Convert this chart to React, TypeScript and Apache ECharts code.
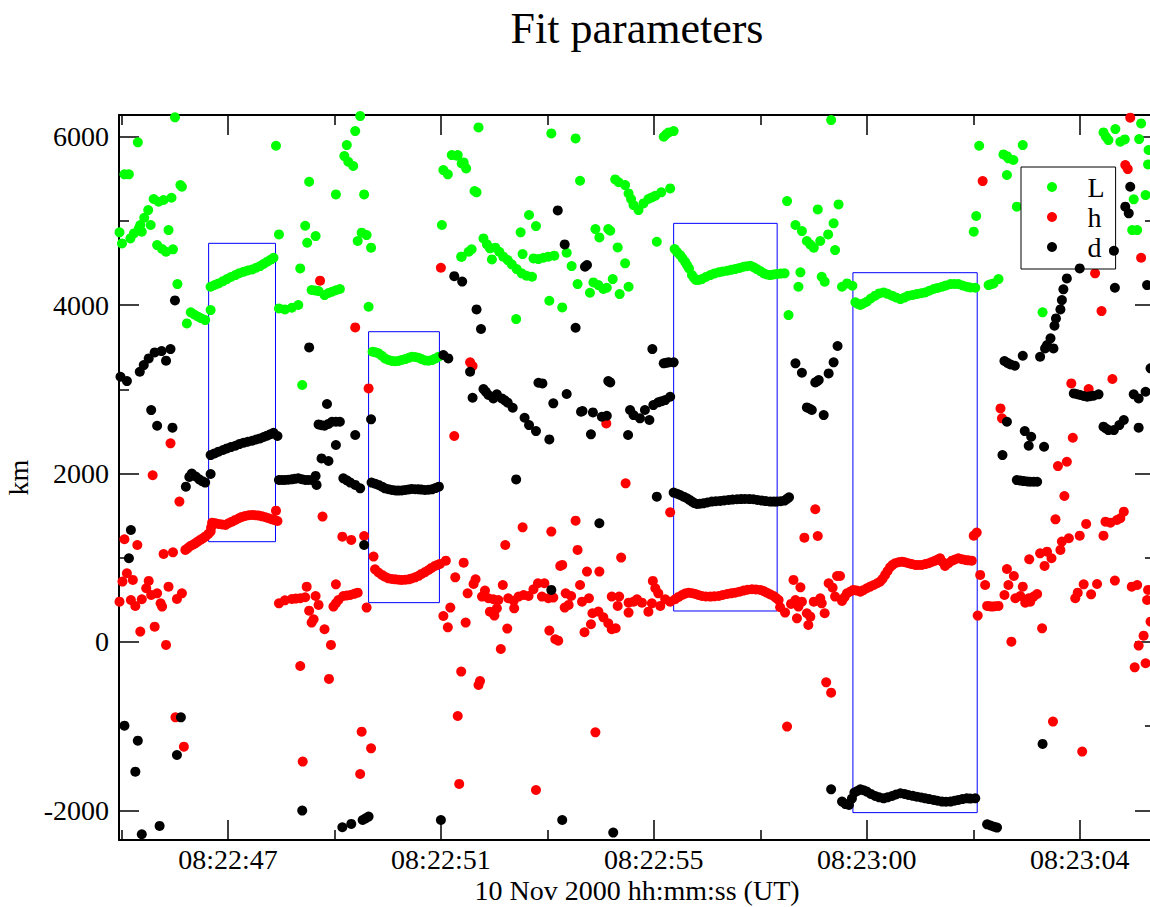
import React, { useEffect, useRef } from "react";
import * as echarts from "echarts";

// time axis: seconds after 08:22:00 UT, 10 Nov 2000
const xMin = 44.95;
const xMax = 65.87;
const yMin = -2352;
const yMax = 6259;

const xMajorTicks = [47.15, 51.45, 55.75, 60.05, 64.35];
const xTickLabels = ["08:22:47", "08:22:51", "08:22:55", "08:23:00", "08:23:04"];
const xMinorTicks = [45.0, 49.3, 53.6, 57.9, 62.2];
const yMajorTicks = [-2000, 0, 2000, 4000, 6000];
const yMinorTicks = [-1000, 1000, 3000, 5000];

// highlighted intervals: [tStart, tEnd, kmLow, kmHigh]
const boxes = [
  [46.76, 48.11, 1191, 4735],
  [49.99, 51.42, 467, 3685],
  [56.15, 58.24, 368, 4972],
  [59.77, 62.28, -2027, 4386],
];

const seriesNames = ["L", "h", "d"];

const L = [
  [46.08,6231],[45.33,5934],[48.12,5894],[45.06,5554],[45.15,5554],[46.19,5427],[46.22,5407],[45.65,5261],[45.75,5229],[45.85,5249],[46.01,5276],[45.54,5130],[45.46,5039],[45.38,4952],[45.35,4912],[44.96,4865],[45.01,4734],[45.18,4793],[45.25,4853],[45.41,4873],[45.59,4952],[45.95,4892],[48.18,4841],[45.72,4714],[45.82,4667],[45.90,4635],[46.04,4663],[46.13,4251],
  [46.80,4219],[46.88,4240],[46.96,4259],[47.05,4285],[47.13,4310],[47.21,4335],[47.30,4358],[47.38,4380],[47.47,4398],[47.55,4412],[47.64,4425],[47.72,4445],[47.80,4465],[47.87,4490],[47.94,4516],[48.01,4540],[48.07,4564],
  [46.32,3784],[46.40,3915],[46.47,3890],[46.54,3866],[46.61,3845],[46.69,3823],[46.80,3942],
  [48.18,3962],[48.30,3950],[48.44,3970],[48.57,4002],
  [49.82,6246],[49.72,6068],[49.55,5902],[49.50,5771],[49.58,5704],[49.68,5653],[48.79,5466],[49.33,5316],[49.90,5316],[48.71,4944],[48.92,4821],[48.75,4742],[49.85,4861],[49.95,4833],[49.77,4762],[50.04,4683],[48.61,4437],[48.84,4180],[48.91,4175],[48.98,4168],[49.10,4120],[49.18,4145],[49.25,4160],[49.33,4178],[49.41,4192],[49.99,3982],[48.65,3052],
  [50.07,3447],[50.13,3440],[50.19,3428],[50.26,3400],[50.32,3368],[50.39,3350],[50.46,3337],[50.52,3335],[50.59,3337],[50.66,3350],[50.73,3360],[50.80,3375],[50.86,3388],[50.93,3385],[51.00,3376],[51.06,3360],[51.13,3344],[51.20,3340],[51.27,3348],[51.33,3365],[51.40,3388],
  [51.47,4952],[51.50,5605],[51.59,5554],[51.67,5783],[51.77,5775],[51.87,5684],[51.87,4576],
  [52.21,6112],[53.68,6040],[54.17,5981],[51.79,5783],[51.91,5696],[51.96,5625],[52.13,5356],[52.17,5340],[54.26,5478],[54.97,5494],[55.04,5460],[53.23,5071],[53.37,4940],[53.06,4865],[54.57,4904],[54.65,4805],[54.83,4904],[54.87,4884],[55.02,4686],[51.86,4576],[52.01,4635],[52.07,4663],
  [52.31,4793],[52.38,4722],[52.44,4675],[52.55,4683],[52.63,4635],[52.71,4576],[52.80,4536],[52.88,4485],[52.98,4429],[53.08,4378],[53.18,4350],[53.29,4338],[52.48,4544],[53.10,4607],[53.32,4556],[53.42,4548],[53.52,4564],[53.62,4576],[53.74,4588],[53.99,4623],[54.09,4465],[54.21,4251],[53.64,4053],[53.90,3974],[52.97,3835],[54.46,4148],[54.53,4271],[54.63,4239],[54.73,4192],[54.80,4207],[54.92,4310],[55.06,4132],
  [55.95,6001],[56.00,6030],[56.05,6052],[56.15,6068],
  [55.17,5427],[55.24,5328],[55.29,5260],[55.34,5189],[55.44,5130],[55.54,5209],[55.64,5261],[55.71,5280],[55.78,5300],[55.90,5340],[56.08,5387],[55.81,4754],[55.17,4497],[55.24,4219],
  [56.17,4667],[56.22,4630],[56.28,4596],[56.33,4556],[56.38,4516],[56.42,4477],[56.46,4437],[56.52,4358],[56.56,4325],[56.60,4299],[56.66,4300],[56.72,4310],[56.80,4335],[56.89,4358],[56.97,4375],[57.06,4390],[57.14,4400],[57.23,4409],[57.31,4420],[57.39,4429],[57.48,4443],[57.56,4457],[57.63,4464],[57.70,4469],[57.77,4450],[57.83,4429],[57.90,4405],[57.97,4378],[58.03,4365],[58.10,4358],[58.17,4365],[58.23,4370],[58.31,4375],[58.39,4378],
  [58.44,5237],[58.47,3883],
  [59.33,6199],[58.61,4952],[58.74,4880],[58.84,4762],[58.91,4720],[58.98,4683],[59.11,4762],[59.27,4841],[59.38,4972],[59.48,5197],[59.06,5138],[59.41,4655],[58.71,4390],[58.67,4219],[59.14,4338],[59.20,4279],[59.55,4219],[59.65,4259],[59.76,4231],
  [59.82,4034],[59.87,4015],[59.92,4002],[59.98,4020],[60.05,4041],[60.13,4080],[60.22,4113],[60.30,4140],[60.39,4152],[60.47,4135],[60.56,4113],[60.64,4092],[60.73,4073],[60.81,4090],[60.89,4113],[60.98,4122],[61.06,4132],[61.15,4142],[61.23,4152],[61.31,4172],[61.40,4192],[61.48,4205],[61.57,4219],[61.65,4235],[61.74,4251],[61.82,4252],[61.90,4251],[61.98,4235],[62.07,4219],[62.14,4210],[62.24,4207],
  [62.51,4239],[62.56,4250],[62.61,4259],[62.71,4310],
  [62.32,5894],[62.81,5791],[62.88,5770],[62.91,5744],[63.01,5724],[63.20,5902],[62.88,5546],[64.83,6052],[64.88,6000],[64.93,5961],[65.07,6092],[65.17,5941],[65.26,5969],[65.59,6159],[65.55,5973],[65.74,5843],[65.73,5672],[63.08,5170],[62.26,5059],[62.21,4873],[65.44,5257],[65.68,5308],[65.41,4892],[65.51,4892],[63.60,3915],
];

const h = [
  [45.99,2359],[45.63,1980],[46.17,1667],[45.06,1220],[45.32,1152],[45.85,1045],[46.04,1065],
  [46.29,1093],[46.34,1115],[46.39,1140],[46.44,1155],[46.49,1172],[46.54,1192],[46.59,1212],[46.64,1230],[46.69,1251],[46.75,1280],[46.80,1311],[46.81,1360],
  [46.83,1417],[46.90,1410],[46.96,1402],[47.03,1396],[47.10,1390],[47.16,1410],[47.23,1429],[47.30,1450],[47.37,1469],[47.43,1485],[47.50,1497],[47.57,1505],[47.64,1509],[47.70,1506],[47.77,1501],[47.84,1492],[47.91,1481],[47.97,1469],[48.04,1457],[48.10,1447],[48.15,1437],[48.12,1560],
  [45.11,816],[45.02,717],[45.23,737],[45.55,725],[45.50,638],[44.96,479],[45.19,499],[45.28,428],[45.41,507],[45.60,558],[45.72,578],[45.79,459],[45.82,420],[45.95,657],[46.12,511],[46.22,578],[45.38,123],[45.67,182],[45.90,-35],
  [46.09,-895],[46.26,-1243],
  [48.18,459],[48.30,495],[48.44,510],[48.52,515],[48.61,519],[48.71,531],
  [49.01,4291],[49.72,3736],[49.99,3012],[51.45,4445],[51.72,2446],
  [49.06,1489],[49.46,1251],[49.64,1212],[49.90,1259],[50.09,1014],
  [50.12,863],[50.19,825],[50.26,796],[50.32,775],[50.39,756],[50.46,748],[50.53,744],[50.60,740],[50.66,737],[50.73,740],[50.80,744],[50.86,755],[50.93,768],[51.00,786],[51.06,808],[51.13,830],[51.20,855],[51.26,880],[51.33,903],[51.38,915],[51.43,927],[51.55,966],
  [48.74,657],[48.92,546],[48.98,440],[48.79,372],[48.84,230],[48.88,269],[49.10,151],[49.23,-35],[48.61,-285],[49.19,-439],
  [49.28,420],[49.33,460],[49.38,499],[49.48,546],[49.55,552],[49.62,558],[49.70,572],[49.77,586],[49.33,685],[49.95,408],[49.85,-1065],[50.04,-1263],[48.66,-1421],[49.82,-1568],
  [51.50,309],[51.59,174],[51.64,408],
  [52.04,3321],[52.09,3277],[54.79,2596],[55.18,1884],
  [53.10,1362],[53.68,1311],[54.17,1441],[52.75,1152],[54.21,1093],[55.09,1002],[51.91,942],[53.86,903],[53.90,915],[54.40,836],[54.65,836],[51.74,768],[52.15,745],[52.11,689],[52.70,677],[54.26,677],[51.99,578],[52.34,610],[52.28,539],[52.41,519],[52.51,507],[52.61,499],[52.44,360],[52.53,313],[52.58,400],
  [52.81,519],[52.92,491],[52.93,400],[53.02,539],[53.12,558],[53.22,546],[53.32,626],[53.41,697],[53.54,697],[53.49,539],[53.62,519],[53.72,527],[53.97,578],[54.08,546],[54.03,440],[53.95,408],[54.30,479],[54.44,519],[54.51,341],[54.63,361],[54.73,293],[54.83,222],[54.90,151],[54.98,163],[54.48,210],[54.35,115],[54.90,539],[55.05,539],[55.02,428],[55.24,467],[55.34,479],[55.24,349],[51.95,230],[52.79,159],[53.64,135],[53.76,32],[53.82,16],[52.66,-83],[51.86,-352],[52.24,-463],[52.21,-511],[51.79,-879],[51.82,-1686],[53.37,-1758],[54.57,-1073],
  [56.08,1540],[55.73,725],[55.78,638],[55.84,578],
  [55.41,507],[55.51,467],[55.64,360],[55.71,459],[55.88,428],[55.98,507],[56.08,479],
  [56.18,507],[56.25,535],[56.32,558],[56.38,575],[56.45,586],[56.52,580],[56.59,570],[56.65,558],[56.72,546],[56.80,541],[56.89,539],[56.97,542],[57.06,546],[57.14,558],[57.23,570],[57.31,578],[57.39,586],[57.48,598],[57.56,610],[57.64,620],[57.73,626],[57.81,624],[57.90,618],[57.97,604],[58.03,586],[58.10,566],[58.17,546],[58.22,522],[58.27,499],
  [58.57,737],[58.30,412],[58.40,349],[58.52,452],[58.44,-1005],
  [59.01,1576],[59.06,1259],[58.79,1239],[58.71,649],[58.61,499],[58.67,420],[58.74,479],[58.64,281],[58.84,341],[58.91,301],[58.87,202],[58.98,479],[59.11,519],[59.14,459],[59.20,341],[59.28,697],[59.36,645],[59.41,539],[59.45,784],[59.51,784],[59.55,487],[59.23,-479],[59.33,-602],
  [59.60,530],[59.65,578],[59.72,600],[59.78,618],[59.85,610],[59.92,598],[59.98,615],[60.05,638],[60.12,658],[60.19,677],[60.26,697],[60.32,717],[60.37,750],[60.42,796],[60.47,842],[60.52,887],[60.57,915],[60.62,935],[60.69,947],[60.76,954],[60.82,947],[60.89,935],[60.96,925],[61.03,915],[61.09,915],[61.16,915],[61.23,925],[61.30,935],[61.36,950],[61.43,966],[61.48,980],[61.53,994],[61.58,950],[61.63,903],[61.70,935],[61.77,966],[61.83,980],[61.90,994],[61.97,984],[62.04,974],[62.10,970],[62.17,966],
  [62.39,5474],[65.37,6227],[65.27,5664],[65.32,5617],[65.59,4564],[64.66,4378],[64.79,3930],[64.18,3071],[64.53,3004],[65.01,3123],[62.75,2774],[62.78,2656],[64.21,2426],[63.91,2089],[64.09,2141],
  [64.04,1734],[63.86,1457],[62.21,1263],[62.27,1299],
  [62.34,796],[62.44,677],[62.29,313],[62.48,428],[62.53,424],[62.58,420],[62.64,424],[62.71,428],[62.88,867],[63.02,784],[62.91,677],[62.83,558],[63.20,657],[63.05,519],[63.15,546],[63.25,467],[63.32,519],[63.42,539],[63.49,570],[63.35,479],[63.33,982],[63.55,1053],[63.69,1073],[63.78,994],[63.64,903],[63.96,1093],[63.99,1192],[64.13,1232],[64.35,1263],[64.48,1402],[64.83,1263],[64.87,1429],[64.97,1417],[65.10,1449],[65.17,1469],[65.24,1548],[64.26,519],[64.31,586],[64.43,685],[64.58,566],[64.70,689],[65.06,729],[65.40,657],[65.51,677],[65.73,618],[65.71,499],[65.78,242],[65.64,75],[65.54,-43],[65.46,-301],[65.68,-253],[63.59,162],[62.97,4],[63.81,-946],[64.40,-1302],
];

const d = [
  [46.08,4057],[44.98,3150],[45.11,3099],[45.37,3210],[45.45,3289],[45.55,3368],[45.67,3439],[45.81,3455],[45.99,3479],[45.90,3341],[45.60,2754],[45.72,2568],[46.03,2545],
  [46.80,2220],[46.88,2240],[46.96,2260],[47.05,2280],[47.13,2299],[47.21,2315],[47.30,2331],[47.38,2350],[47.47,2367],[47.55,2378],[47.64,2390],[47.72,2405],[47.80,2418],[47.87,2434],[47.94,2450],[48.01,2468],[48.07,2485],[48.15,2446],
  [46.30,1845],[46.37,1960],[46.42,2000],[46.50,1965],[46.57,1932],[46.63,1910],[46.69,1893],[46.80,1995],
  [48.18,1924],[48.24,1924],[48.30,1924],[48.37,1928],[48.44,1932],[48.50,1938],[48.57,1944],[48.64,1934],[48.71,1924],[48.77,1924],[48.84,1924],[48.92,1972],[48.94,1865],
  [45.19,1330],[45.15,994],[45.06,-994],[45.33,-1172],[45.28,-1540],[46.20,-895],[46.12,-1342],[45.41,-2284],[45.77,-2185],
  [48.79,3499],[49.15,2826],[48.98,2584],[49.04,2575],[49.10,2568],[49.18,2590],[49.25,2616],[49.33,2616],[49.41,2616],[49.72,2458],[49.33,2339],[49.04,2180],[49.18,2149],[50.04,2644],[51.50,3408],[51.60,3368],[51.72,4345],[51.88,4280],
  [49.48,1944],[49.55,1920],[49.62,1893],[49.72,1865],[49.82,1825],
  [50.05,1893],[50.12,1880],[50.19,1865],[50.26,1845],[50.32,1825],[50.39,1815],[50.46,1806],[50.53,1800],[50.59,1798],[50.66,1800],[50.73,1806],[50.80,1812],[50.86,1817],[50.93,1815],[51.00,1813],[51.06,1810],[51.13,1806],[51.20,1808],[51.27,1813],[51.34,1828],[51.41,1845],
  [49.90,1152],[48.65,-2003],[49.46,-2201],[49.64,-2161],[49.87,-2114],[49.93,-2095],[49.99,-2074],[51.45,-2114],
  [53.81,5126],[53.95,4722],[54.36,4457],[54.40,4477],[52.17,3950],[52.26,3717],[54.17,3732],[52.04,3210],[52.09,2901],[52.31,3004],[52.36,2970],[52.41,2933],[52.51,2893],[52.58,2941],[52.68,2893],[52.74,2870],[52.80,2842],[52.90,2782],[53.14,2663],[53.23,2576],[53.37,2505],[53.64,2406],[53.42,3079],[53.50,3071],[53.99,2945],[53.72,2834],[54.28,2735],[54.31,2743],[54.52,2727],[54.70,2675],[54.80,2687],[54.83,3099],[54.87,3083],[54.48,2466],[55.23,2458],[55.27,2755],[55.34,2695],[52.97,1931],
  [54.65,1410],[53.68,618],[53.90,-2114],[54.93,-2264],
  [55.72,3479],[55.95,3309],[56.00,3315],[56.05,3321],[56.15,3321],[55.47,2656],[55.57,2755],[55.66,2636],[55.74,2814],[55.84,2846],[55.91,2860],[55.98,2873],[56.08,2913],
  [55.81,1726],
  [56.15,1774],[56.22,1760],[56.28,1746],[56.35,1726],[56.42,1707],[56.47,1687],[56.52,1667],[56.57,1650],[56.62,1639],[56.68,1642],[56.75,1647],[56.83,1657],[56.92,1667],[57.00,1671],[57.09,1675],[57.17,1681],[57.26,1687],[57.34,1691],[57.43,1695],[57.51,1697],[57.59,1699],[57.68,1697],[57.76,1695],[57.84,1687],[57.93,1679],[58.01,1673],[58.10,1667],[58.17,1667],[58.23,1667],[58.31,1672],[58.39,1679],[58.44,1700],[58.48,1718],
  [59.46,3515],[58.61,3309],[58.74,3198],[59.01,3083],[59.05,3097],[59.08,3111],[59.28,3190],[59.38,3321],[58.84,2786],[58.90,2770],[58.94,2755],[59.18,2695],
  [59.33,-1750],[59.55,-1896],[59.62,-1925],[59.69,-1936],[59.75,-1860],
  [59.80,-1789],[59.86,-1770],[59.92,-1750],[59.98,-1760],[60.05,-1777],[60.13,-1805],[60.22,-1829],[60.30,-1845],[60.39,-1857],[60.47,-1845],[60.56,-1829],[60.64,-1812],[60.73,-1797],[60.81,-1805],[60.89,-1817],[60.98,-1827],[61.06,-1837],[61.15,-1847],[61.23,-1857],[61.31,-1866],[61.40,-1876],[61.48,-1886],[61.57,-1896],[61.65,-1898],[61.74,-1896],[61.82,-1886],[61.90,-1876],[61.98,-1866],[62.07,-1857],[62.14,-1860],[62.24,-1857],
  [65.37,5407],[65.27,5170],[65.34,5091],[65.04,4647],[64.35,4437],[64.09,4318],[64.02,4188],[63.99,4061],[63.96,3950],[63.87,3843],[63.84,3756],[63.76,3606],[63.69,3527],[63.82,3487],[63.55,3388],[63.65,3487],[65.06,4207],[65.71,4239],[62.83,3337],[62.89,3315],[62.95,3297],[63.04,3281],[63.20,3400],[65.78,3250],[64.23,2952],[64.30,2942],[64.36,2933],[64.43,2922],[64.50,2913],[64.56,2920],[64.63,2925],[64.73,2941],[65.44,2941],[65.54,2893],[65.68,2972],[62.88,2616],[63.24,2505],[63.37,2438],[63.32,2331],[63.63,2319],[62.79,2220],[64.83,2557],[64.88,2535],[64.93,2517],[65.04,2517],[65.15,2576],[65.24,2636],[65.54,2545],[63.08,1923],[63.15,1917],[63.22,1911],[63.29,1907],[63.35,1903],[63.42,1903],[63.49,1903],
  [62.48,-2166],[62.55,-2180],[62.62,-2195],[62.68,-2205],[63.60,-1211],
];

const FONT = "'Liberation Serif', 'Times New Roman', serif";

export default function App() {
  const ref = useRef<HTMLDivElement>(null);
  useEffect(() => {
    document.body.style.margin = "0";
    const chart = echarts.init(ref.current!, undefined, { renderer: "svg" });
    const lineStyle = { color: "#000", width: 2 };
    const tickStyle = { color: "#000", width: 1.5 };
    const baseX = { type: "value", min: xMin, max: xMax, gridIndex: 0, splitLine: { show: false } };
    const baseY = { type: "value", min: yMin, max: yMax, gridIndex: 0, splitLine: { show: false } };
    const xLabelFmt = (v: number) => {
      const i = xMajorTicks.findIndex((t) => Math.abs(t - v) < 1e-6);
      return i >= 0 ? xTickLabels[i] : "";
    };
    const dot = { opacity: 1, borderWidth: 0 };
    chart.setOption({
      animation: false,
      backgroundColor: "#fff",
      graphic: [
        {
          type: "text",
          x: 637,
          y: 6,
          style: { text: "Fit parameters", font: `44px ${FONT}`, fill: "#000", textAlign: "center", textVerticalAlign: "top" },
        },
      ],
      grid: { left: 119, right: -5, top: 115, bottom: 67, containLabel: false, outerBoundsMode: "none" },
      legend: {
        data: seriesNames,
        orient: "vertical",
        left: 1021,
        top: 167,
        padding: [6, 11, 8, 26],
        itemWidth: 61,
        itemHeight: 10,
        itemGap: 2,
        icon: "circle",
        borderColor: "#000",
        borderWidth: 1,
        backgroundColor: "#fff",
        selectedMode: false,
        textStyle: { fontFamily: FONT, fontSize: 28, color: "#000" },
      },
      xAxis: [
        {
          ...baseX,
          position: "bottom",
          name: "10 Nov 2000 hh:mm:ss (UT)",
          nameLocation: "middle",
          nameGap: 36,
          nameMoveOverlap: false,
          nameTextStyle: { fontFamily: FONT, fontSize: 28, color: "#000", lineHeight: 28 },
          axisLine: { show: true, onZero: false, lineStyle },
          axisTick: { show: true, inside: true, length: 20, customValues: xMajorTicks, lineStyle: tickStyle },
          axisLabel: { show: true, customValues: xMajorTicks, formatter: xLabelFmt, margin: 5, lineHeight: 28, fontFamily: FONT, fontSize: 28, color: "#000" },
        },
        {
          ...baseX,
          position: "bottom",
          axisLine: { show: false, onZero: false },
          axisTick: { show: true, inside: true, length: 10, customValues: xMinorTicks, lineStyle: tickStyle },
          axisLabel: { show: false },
        },
        {
          ...baseX,
          position: "top",
          axisLine: { show: true, onZero: false, lineStyle },
          axisTick: { show: true, inside: true, length: 20, customValues: xMajorTicks, lineStyle: tickStyle },
          axisLabel: { show: false },
        },
        {
          ...baseX,
          position: "top",
          axisLine: { show: false, onZero: false },
          axisTick: { show: true, inside: true, length: 10, customValues: xMinorTicks, lineStyle: tickStyle },
          axisLabel: { show: false },
        },
      ],
      yAxis: [
        {
          ...baseY,
          position: "left",
          name: "km",
          nameLocation: "middle",
          nameGap: 80,
          nameTextStyle: { fontFamily: FONT, fontSize: 28, color: "#000" },
          axisLine: { show: true, onZero: false, lineStyle },
          axisTick: { show: true, inside: true, length: 20, customValues: yMajorTicks, lineStyle: tickStyle },
          axisLabel: { show: true, customValues: yMajorTicks, formatter: (v: number) => String(v), margin: 10, fontFamily: FONT, fontSize: 28, color: "#000" },
        },
        {
          ...baseY,
          position: "left",
          axisLine: { show: false, onZero: false },
          axisTick: { show: true, inside: true, length: 10, customValues: yMinorTicks, lineStyle: tickStyle },
          axisLabel: { show: false },
        },
        {
          ...baseY,
          position: "right",
          axisLine: { show: true, onZero: false, lineStyle },
          axisTick: { show: true, inside: true, length: 20, customValues: yMajorTicks, lineStyle: tickStyle },
          axisLabel: { show: false },
        },
        {
          ...baseY,
          position: "right",
          axisLine: { show: false, onZero: false },
          axisTick: { show: true, inside: true, length: 10, customValues: yMinorTicks, lineStyle: tickStyle },
          axisLabel: { show: false },
        },
      ],
      series: [
        { name: "L", type: "scatter", data: L, symbol: "circle", symbolSize: 10, itemStyle: { color: "#00ff00", ...dot }, z: 2 },
        { name: "h", type: "scatter", data: h, symbol: "circle", symbolSize: 10, itemStyle: { color: "#ff0000", ...dot }, z: 3 },
        { name: "d", type: "scatter", data: d, symbol: "circle", symbolSize: 10, itemStyle: { color: "#000000", ...dot }, z: 4 },
        {
          name: "boxes",
          type: "scatter",
          data: [],
          z: 5,
          markArea: {
            silent: true,
            itemStyle: { color: "rgba(0,0,0,0)", borderColor: "#0000ff", borderWidth: 1 },
            data: boxes.map((b) => [{ coord: [b[0], b[2]] }, { coord: [b[1], b[3]] }]),
          },
        },
      ],
    });
    return () => chart.dispose();
  }, []);
  return <div ref={ref} style={{ width: 1150, height: 907 }} />;
}
